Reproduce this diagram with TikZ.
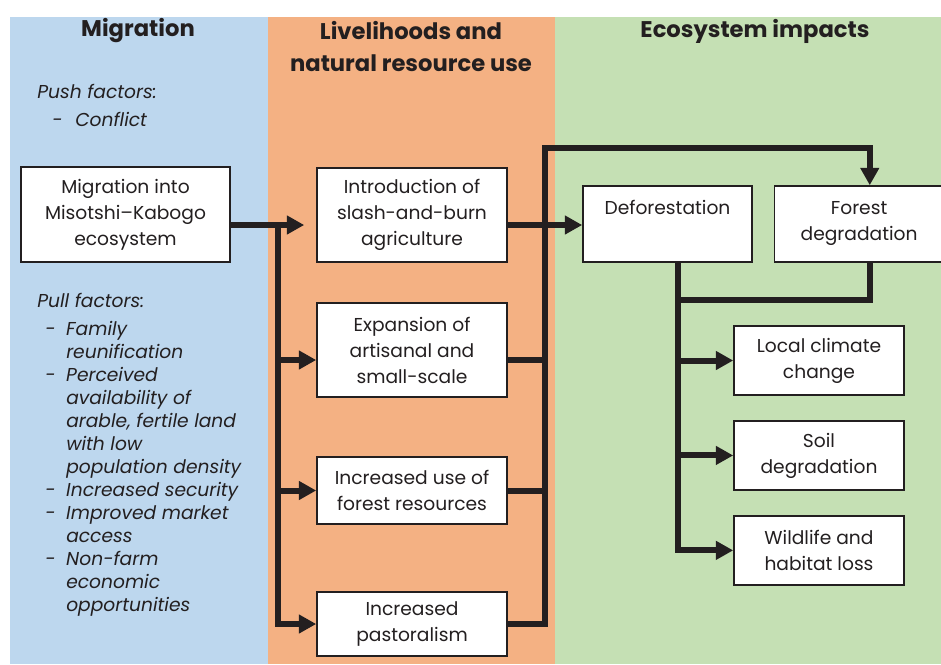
\documentclass[tikz,border=0pt]{standalone}
\usepackage{fontspec}
\setmainfont{Poppins}
\usetikzlibrary{arrows.meta,positioning}

\definecolor{migblue}{HTML}{BDD7EE}
\definecolor{liveorange}{HTML}{F4B183}
\definecolor{ecogreen}{HTML}{C5E0B4}
\definecolor{ink}{HTML}{231F20}

% list helpers for the factor lists
\newcommand\fdash{\hspace*{6pt}\makebox[15.75pt][l]{-}}
\newcommand\findent{\hspace*{21.75pt}}

\begin{document}
\begin{tikzpicture}[x=0.75pt,y=-0.75pt]
	\tikzset{block/.style={draw=ink,line width=1.2pt,fill=white,align=center,text=ink,
			font=\fontsize{14}{19.5}\selectfont,inner sep=2pt},
		head/.style={align=center,text=ink,font=\fontsize{17}{24}\selectfont\bfseries},
		factors/.style={align=left,anchor=north west,inner sep=0pt,text=ink,
			font=\fontsize{14}{17.25}\selectfont\itshape},
		flow/.style={draw=ink,line width=4.5pt},
		tip/.style={-{Triangle[length=13pt,width=13.5pt]}}}
	\useasboundingbox (0,0) rectangle (941,664);
	% three columns
	\fill[migblue] (10,17) rectangle (268,664);
	\fill[liveorange] (268,17) rectangle (555,664);
	\fill[ecogreen] (555,17) rectangle (941,664);
	\node [head] (hmig) at (138,31) {Migration};
	\node [head] (hlive) at (411,47) {Livelihoods and\\natural resource use};
	\node [head] (heco) at (755,31) {Ecosystem impacts};
	% migration column
	\node [factors] (push) at (37,84) {Push factors:\\[3.5pt]\hspace*{11.25pt}\makebox[17.25pt][l]{-}Conflict};
	\node [block, minimum width=156.75pt, minimum height=71.25pt] (mig) at (125.5,214.5)
		{Migration into\\Misotshi--Kabogo\\ecosystem};
	\node [factors] (pull) at (37,293) {Pull factors:\\[3.5pt]
		\fdash Family\\\findent reunification\\
		\fdash Perceived\\\findent availability of\\\findent arable, fertile land\\
		\findent with low\\\findent population density\\
		\fdash Increased security\\
		\fdash Improved market\\\findent access\\
		\fdash Non-farm\\\findent economic\\\findent opportunities};
	% livelihoods column
	\node [block, minimum width=142.5pt, minimum height=70.5pt] (intro) at (412,215)
		{Introduction of\\slash-and-burn\\agriculture};
	\node [block, minimum width=142.5pt, minimum height=70.5pt] (expa) at (412,350)
		{Expansion of\\artisanal and\\small-scale};
	\node [block, minimum width=142.5pt, minimum height=50.25pt] (use) at (412,490.5)
		{Increased use of\\forest resources};
	\node [block, minimum width=142.5pt, minimum height=48pt] (past) at (412,624)
		{Increased\\pastoralism};
	% ecosystem column
	\node [block, minimum width=126.75pt, minimum height=57pt] (defor) at (667.5,224)
		{Deforestation\\\strut};
	\node [block, minimum width=126.75pt, minimum height=57pt, right=15.75pt of defor] (forest)
		{Forest\\degradation};
	\node [block, minimum width=127.5pt, minimum height=52pt] (clim) at (819,360.5)
		{Local climate\\change};
	\node [block, minimum width=127.5pt, minimum height=52pt, below=18pt of clim] (soil)
		{Soil\\degradation};
	\node [block, minimum width=127.5pt, minimum height=52pt, below=18pt of soil] (wild)
		{Wildlife and\\habitat loss};
	% bus lines
	\coordinate (lbus) at (278,225);
	\coordinate (rbus) at (545,148);
	\coordinate (gbus) at ([xshift=8pt]defor.south);
	\coordinate (gjoin) at (678,300);
	\path[flow,tip,shorten >=9pt] (mig.east |- lbus) -- (intro.west |- lbus);
	\path[flow,tip] (lbus) |- (past.west);
	\path[flow,tip] (lbus |- 0,360) -- ([yshift=-7.5pt]expa.west);
	\path[flow,tip] (lbus |- use.west) -- (use.west);
	\path[flow,tip] (intro.east |- lbus) -- (defor.west |- lbus);
	\path[flow] ([yshift=-7.5pt]expa.east) -- (rbus |- 0,360);
	\path[flow] (use.east) -- (rbus |- use.east);
	\path[flow,tip] (past.east) -| (rbus) -| ([xshift=8pt]forest.north);
	\path[flow,tip] (gbus) |- (wild.west);
	\path[flow] ([xshift=8pt]forest.south) |- (gjoin);
	\path[flow,tip] (gbus |- clim.west) -- (clim.west);
	\path[flow,tip] (gbus |- soil.west) -- (soil.west);
\end{tikzpicture}
\end{document}
